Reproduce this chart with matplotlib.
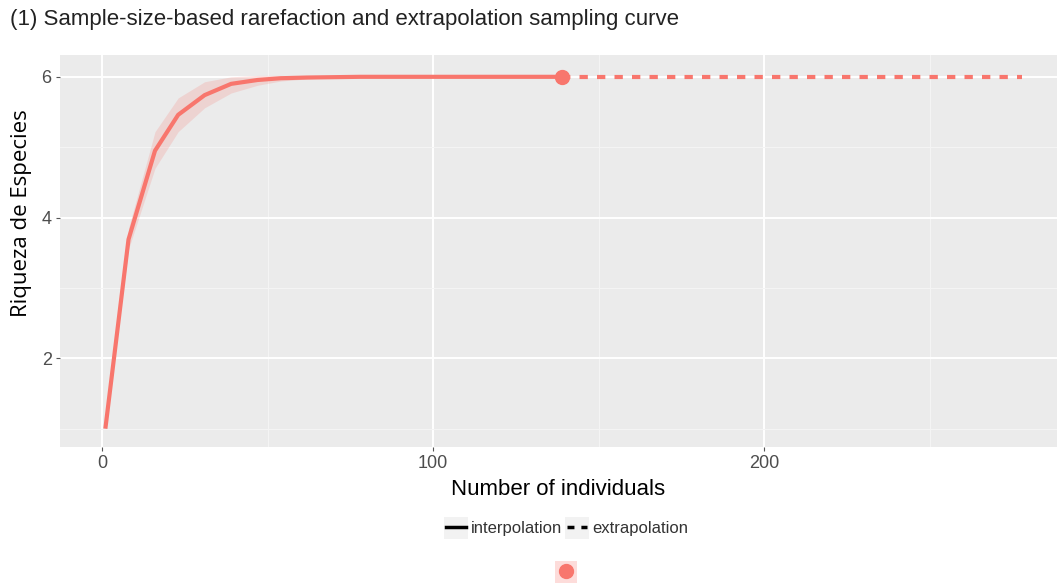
import matplotlib
matplotlib.use("Agg")
import matplotlib.pyplot as plt
from matplotlib.lines import Line2D
import numpy as np

# Data
m_interp = [1, 8, 16, 23, 31, 39, 47, 54, 62, 70, 78, 85, 93, 101, 108, 116, 124, 131, 139]
s_interp = [1.0, 3.69, 4.95, 5.46, 5.74, 5.90, 5.955, 5.98, 5.99, 5.995, 6.0, 6.0, 6.0, 6.0, 6.0, 6.0, 6.0, 6.0, 6.0]
lo_interp = [1.0, 3.55, 4.70, 5.22, 5.56, 5.77, 5.88, 5.94, 5.97, 5.985, 5.99, 6.0, 6.0, 6.0, 6.0, 6.0, 6.0, 6.0, 6.0]
hi_interp = [1.0, 3.85, 5.22, 5.70, 5.93, 6.0, 6.02, 6.02, 6.01, 6.005, 6.0, 6.0, 6.0, 6.0, 6.0, 6.0, 6.0, 6.0, 6.0]
m_extrap = [139, 278]
s_extrap = [6.0, 6.0]
m_obs = [139]
s_obs = [6.0]

x_ticks = [0, 100, 200]
y_ticks = [2, 4, 6]

col = "#F8766D"
font = ["Liberation Sans", "DejaVu Sans"]

W, H = 1057, 583
fig = plt.figure(figsize=(W/100, H/100), dpi=100)
ax = fig.add_axes([60/W, 1-447/H, 1-60/W, (447-55)/H])
ax.set_facecolor("#EBEBEB")
for s in ax.spines.values():
    s.set_visible(False)

ax.set_xlim(-12.7, 288.5)
ax.set_ylim(0.74, 6.31)

# grid
ax.set_xticks(x_ticks)
ax.set_yticks(y_ticks)
ax.set_xticks([50, 150, 250], minor=True)
ax.set_yticks([1, 3, 5], minor=True)
ax.grid(True, which="major", color="white", linewidth=1.4)
ax.grid(True, which="minor", color="#F5F5F5", linewidth=0.7)
ax.set_axisbelow(True)
ax.tick_params(which="minor", length=0)
ax.tick_params(which="major", length=3, color="#555555", width=0.8,
               labelsize=13, labelcolor="#4D4D4D", pad=3)
for lab in ax.get_xticklabels() + ax.get_yticklabels():
    lab.set_family(font)

ax.fill_between(m_interp, lo_interp, hi_interp, color=col, alpha=0.2, linewidth=0)
ax.plot(m_interp, s_interp, color=col, linewidth=3, solid_capstyle="butt")
ax.plot(m_extrap, s_extrap, color=col, linewidth=3, dashes=(2, 2.2), dash_capstyle="butt")
ax.plot(m_obs, s_obs, "o", color=col, markersize=10)

ax.set_xlabel("Number of individuals", fontsize=16, family=font, labelpad=5, color="black")
fig.text(22/W, 1-213/H, "Riqueza de Especies", rotation=90, ha="center", va="center",
         fontsize=16, family=["Open Sans", "DejaVu Sans"], color="black")

fig.text(10/W, 1-20/H, "(1) Sample-size-based rarefaction and extrapolation sampling curve",
         fontsize=16, family=font, color="#222222", va="center", ha="left")

# linetype legend
for x0 in (444, 565):
    fig.patches.append(plt.Rectangle((x0/W, 1-539/H), 24/W, 22/H, transform=fig.transFigure,
                                     facecolor="#F2F2F2", edgecolor="none"))
handles = [Line2D([], [], color="black", linewidth=2.5),
           Line2D([], [], color="black", linewidth=2.5, dashes=(2, 2))]
leg = fig.legend(handles, ["interpolation", "extrapolation"], loc="center",
                 bbox_to_anchor=(567/W, 1-528/H), ncol=2, frameon=False,
                 handlelength=1.2, handletextpad=0.3, columnspacing=0.3,
                 prop={"family": font, "size": 12})
for t in leg.get_texts():
    t.set_color("#333333")

# color legend key
fig.patches.append(plt.Rectangle((555/W, 0), 22/W, 22/H,
                                 transform=fig.transFigure, facecolor=col, alpha=0.25,
                                 edgecolor="none"))
fig.lines.append(Line2D([566/W], [1-571/H], marker="o", color=col, markersize=10,
                        transform=fig.transFigure))

fig.savefig("out.png", dpi=100)
